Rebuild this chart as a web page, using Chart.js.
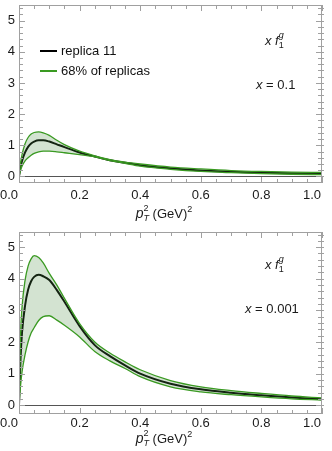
<!DOCTYPE html>
<html>
<head>
<meta charset="utf-8">
<script src="https://cdn.jsdelivr.net/npm/chart.js@4"></script>
<style>
body{margin:0;background:#fff;width:332px;height:451px;overflow:hidden;position:relative}
canvas{position:absolute;left:0}
</style>
</head>
<body>
<canvas id="topChart" width="332" height="225" style="top:0"></canvas>
<canvas id="botChart" width="332" height="226" style="top:225px"></canvas>
<script>
// pT^2 grid (GeV^2)
const pT2 = [0, 0.005, 0.01, 0.02, 0.03, 0.04, 0.05, 0.065, 0.08, 0.1, 0.125, 0.15, 0.2, 0.25, 0.3, 0.35, 0.4, 0.5, 0.6, 0.7, 0.8, 0.9, 1.0];

// x = 0.1
const rep11_x01 = [0, 0.3, 0.5, 0.77, 0.95, 1.06, 1.12, 1.16, 1.16, 1.12, 1.03, 0.94, 0.77, 0.64, 0.52, 0.44, 0.36, 0.26, 0.19, 0.15, 0.12, 0.10, 0.085];
const upper_x01 = [0, 0.42, 0.7, 1.05, 1.25, 1.36, 1.41, 1.43, 1.40, 1.32, 1.16, 1.02, 0.81, 0.66, 0.54, 0.46, 0.40, 0.30, 0.24, 0.19, 0.16, 0.14, 0.13];
const lower_x01 = [0, 0.2, 0.33, 0.5, 0.6, 0.68, 0.74, 0.79, 0.81, 0.81, 0.79, 0.76, 0.70, 0.63, 0.51, 0.42, 0.33, 0.23, 0.16, 0.12, 0.09, 0.07, 0.06];

// x = 0.001
const rep11_x0001 = [0, 1.45, 2.3, 3.15, 3.65, 3.92, 4.06, 4.13, 4.08, 3.96, 3.64, 3.27, 2.5, 1.9, 1.55, 1.26, 1.0, 0.68, 0.5, 0.39, 0.31, 0.24, 0.19];
const upper_x0001 = [0, 2.2, 3.1, 3.95, 4.4, 4.63, 4.73, 4.67, 4.5, 4.17, 3.8, 3.38, 2.58, 2.0, 1.65, 1.37, 1.12, 0.78, 0.58, 0.46, 0.37, 0.29, 0.23];
const lower_x0001 = [0, 0.6, 1.05, 1.6, 2.0, 2.28, 2.45, 2.68, 2.8, 2.83, 2.69, 2.53, 2.16, 1.7, 1.4, 1.16, 0.9, 0.58, 0.42, 0.33, 0.26, 0.2, 0.16];

const xTicks = [0, 0.2, 0.4, 0.6, 0.8, 1.0];
const yTicks = [0, 1, 2, 3, 4, 5];

const GREEN = "#3a9a22";
const FILL = "rgba(80,145,70,0.25)";
const FONT = '"Liberation Sans", Arial, sans-serif';

function pts(ys){ return pT2.map((x,i)=>({x:x, y:ys[i]})); }

function fontOf(p){ return (p.it ? "italic " : "") + (p.size || 13) + "px " + FONT; }

// draws text pieces with sub/superscripts
function rich(ctx, parts, x, y, align){
    let w = 0, prevX = 0;
    const xs = [];
    parts.forEach(p=>{
        ctx.font = fontOf(p);
        const pw = ctx.measureText(p.t).width;
        if(p.back){ xs.push(prevX); w = Math.max(w, prevX + pw); }
        else { xs.push(w); prevX = w; w += pw; }
    });
    let x0 = align === "center" ? x - w/2 : x;
    ctx.textAlign = "left";
    ctx.textBaseline = "alphabetic";
    parts.forEach((p,i)=>{
        ctx.font = fontOf(p);
        ctx.fillText(p.t, x0 + xs[i], y + (p.dy || 0));
    });
}

const framePlugin = {
    id: "frame",
    beforeDatasetsDraw(chart){
        const {ctx, chartArea:a, scales:{y}} = chart;
        ctx.save();
        ctx.strokeStyle = "#555";
        ctx.lineWidth = 1;
        const y0 = Math.round(y.getPixelForValue(0)) + 0.5;
        ctx.beginPath(); ctx.moveTo(a.left, y0); ctx.lineTo(a.right, y0); ctx.stroke();
        ctx.restore();
    },
    afterDraw(chart, args, opts){
        const {ctx, chartArea:a, scales:{x, y}} = chart;
        ctx.save();
        ctx.strokeStyle = "#a0a0a0";
        ctx.lineWidth = 1;
        ctx.strokeRect(a.left + 0.5, a.top + 0.5, a.right - a.left - 1, a.bottom - a.top - 1);
        ctx.beginPath();
        // x ticks, major every 0.2, minor every 0.05
        for(let k = 0; k <= 20; k++){
            const v = k * 0.05;
            const len = k % 4 === 0 ? 6 : 4;
            const px = Math.round(x.getPixelForValue(v)) + 0.5;
            ctx.moveTo(px, a.bottom); ctx.lineTo(px, a.bottom - len);
            ctx.moveTo(px, a.top); ctx.lineTo(px, a.top + len);
        }
        // y ticks, major every 1, minor every 0.2
        for(let k = 0; k <= 27; k++){
            const v = k * 0.2;
            if(v > y.max) break;
            const len = k % 5 === 0 ? 6 : 4;
            const py = Math.round(y.getPixelForValue(v)) + 0.5;
            ctx.moveTo(a.left, py); ctx.lineTo(a.left + len, py);
            ctx.moveTo(a.right + 2, py); ctx.lineTo(a.right - len, py);
        }
        ctx.stroke();

        // tick labels
        ctx.fillStyle = "#1a1a1a";
        ctx.font = "13px " + FONT;
        ctx.textAlign = "right";
        ctx.textBaseline = "middle";
        yTicks.forEach(v=> ctx.fillText(String(v), a.left - 4, y.getPixelForValue(v)));
        ctx.textAlign = "center";
        ctx.textBaseline = "top";
        xTicks.forEach((v,i)=>{
            let px = x.getPixelForValue(v);
            if(i === 0) px -= 10;
            if(i === xTicks.length - 1) px -= 10;
            ctx.fillText(v.toFixed(1), px, opts.labelY);
        });

        // axis title
        rich(ctx, [
            {t:"p", it:1, size:14},
            {t:"T", it:1, size:9, dy:3},
            {t:"2", size:9, dy:-7, back:1},
            {t:" (GeV)", size:13},
            {t:"2", size:9, dy:-6}
        ], 164, opts.titleY, "center");

        // annotation
        rich(ctx, [
            {t:"x", it:1},
            {t:" "},
            {t:"f", it:1},
            {t:"1", size:9, dy:3},
            {t:"g", it:1, size:9, dy:-7, back:1}
        ], opts.fx, opts.fy);
        rich(ctx, [{t:"x", it:1}, {t:" = " + opts.label}], opts.lx, opts.ly);

        // legend
        if(opts.legend){
            ctx.lineWidth = 2;
            ctx.strokeStyle = "#000";
            ctx.beginPath(); ctx.moveTo(40, 51); ctx.lineTo(57, 51); ctx.stroke();
            ctx.strokeStyle = GREEN;
            ctx.beginPath(); ctx.moveTo(40, 71); ctx.lineTo(57, 71); ctx.stroke();
            ctx.fillStyle = "#111";
            ctx.font = "13px " + FONT;
            ctx.textAlign = "left";
            ctx.textBaseline = "middle";
            ctx.fillText("replica 11", 61, 51);
            ctx.fillText("68% of replicas", 61, 71);
        }
        ctx.restore();
    }
};

function makeChart(id, rep, up, low, yMin, yMax, pad, frameOpts){
    return new Chart(document.getElementById(id), {
        type: "line",
        data: {
            datasets: [
                {label:"upper", data:pts(up), borderColor:GREEN, borderWidth:1.3, fill:false},
                {label:"lower", data:pts(low), borderColor:GREEN, borderWidth:1.3, fill:"-1", backgroundColor:FILL},
                {label:"replica 11", data:pts(rep), borderColor:"#000", borderWidth:2, fill:false}
            ]
        },
        options: {
            responsive: false,
            animation: false,
            parsing: false,
            layout: {padding: pad},
            elements: {
                point: {radius:0},
                line: {tension:0.4, cubicInterpolationMode:"monotone"}
            },
            plugins: {legend:{display:false}, tooltip:{enabled:false}, frame:frameOpts},
            scales: {
                x: {type:"linear", min:0, max:1, display:false},
                y: {type:"linear", min:yMin, max:yMax, display:false}
            }
        },
        plugins: [framePlugin]
    });
}

makeChart("topChart", rep11_x01, upper_x01, lower_x01, -0.21, 5.5,
    {left:19, right:10, top:5, bottom:42},
    {legend:true, fx:265, fy:45, lx:256, ly:89, label:"0.1", labelY:189, titleY:218});
makeChart("botChart", rep11_x0001, upper_x0001, lower_x0001, -0.28, 5.48,
    {left:19, right:10, top:7, bottom:37},
    {legend:false, fx:265, fy:44, lx:245, ly:88, label:"0.001", labelY:192, titleY:218});
</script>
</body>
</html>
